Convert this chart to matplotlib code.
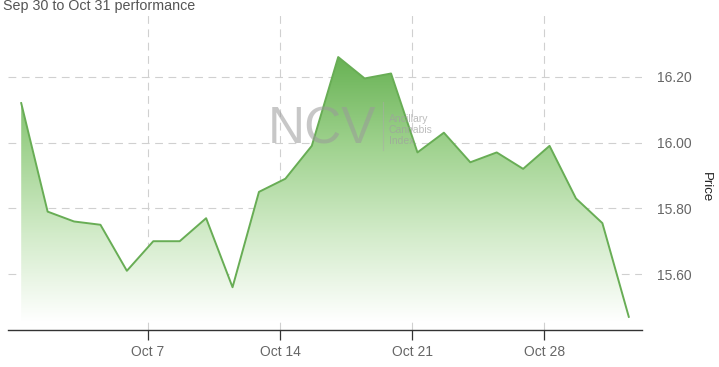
import numpy as np
import matplotlib
matplotlib.use('Agg')
from matplotlib import pyplot as plt
from matplotlib.colors import LinearSegmentedColormap
from matplotlib.patches import Polygon

# trading days, Sep 30 to Oct 31
dates = ['Sep 30', 'Oct 1', 'Oct 2', 'Oct 3', 'Oct 4',
         'Oct 7', 'Oct 8', 'Oct 9', 'Oct 10', 'Oct 11',
         'Oct 14', 'Oct 15', 'Oct 16', 'Oct 17', 'Oct 18',
         'Oct 21', 'Oct 22', 'Oct 23', 'Oct 24', 'Oct 25',
         'Oct 28', 'Oct 29', 'Oct 30', 'Oct 31']
prices = [16.12, 15.79, 15.76, 15.75, 15.61,
          15.70, 15.70, 15.77, 15.56,
          15.85, 15.89, 15.99, 16.26, 16.195, 16.21,
          15.97, 16.03, 15.94, 15.97, 15.92,
          15.99, 15.83, 15.755, 15.47]
tick_dates = ['Oct 7', 'Oct 14', 'Oct 21', 'Oct 28']
price_ticks = [15.60, 15.80, 16.00, 16.20]

FONT = 'Liberation Sans'
LINE_COLOR = '#68ad55'
GRID_COLOR = '#d0d0d0'

x = np.arange(len(prices))
y = np.array(prices)

fig = plt.figure(figsize=(7.19, 3.67), dpi=100)
ax = fig.add_axes([8 / 719, 37 / 367, 634 / 719, 318 / 367])

# gradient fill under the line
fill_bottom = 15.455
cmap = LinearSegmentedColormap.from_list('g', ['#ffffff', '#d2ebc9', '#9fd28e', '#68b254'])
grad = np.linspace(0, 1, 256).reshape(-1, 1)
img = ax.imshow(grad, cmap=cmap, origin='lower', aspect='auto',
                extent=[x[0], x[-1], fill_bottom, y.max()], zorder=1)
verts = list(zip(x, y)) + [(x[-1], fill_bottom), (x[0], fill_bottom)]
poly = Polygon(verts, closed=True, facecolor='none', edgecolor='none')
ax.add_patch(poly)
img.set_clip_path(poly)
ax.set_xlim(-0.5, 23.5)
ax.set_ylim(15.430, 16.397)

ax.plot(x, y, color=LINE_COLOR, linewidth=1.4, zorder=3)

# grid
tick_pos = [dates.index(d) - 0.2 for d in tick_dates]
ax.set_xticks(tick_pos)
ax.set_xticklabels(tick_dates)
ax.set_yticks(price_ticks)
ax.set_yticklabels([f'{v:.2f}' for v in price_ticks])
ax.grid(True, color=GRID_COLOR, linestyle=(0, (7, 5)), linewidth=0.8, zorder=0)
ax.set_axisbelow(True)

for side in ['top', 'left', 'right']:
    ax.spines[side].set_visible(False)
ax.spines['bottom'].set_color('#333333')
ax.spines['bottom'].set_linewidth(1.0)

ax.yaxis.tick_right()
ax.tick_params(axis='y', length=0, pad=11, labelsize=10, labelcolor='#666666')
ax.tick_params(axis='x', length=7, width=0.9, color='#333333', pad=4,
               labelsize=10, labelcolor='#666666')
for lab in ax.get_xticklabels() + ax.get_yticklabels():
    lab.set_fontfamily(FONT)

fig.text(706 / 719, 1 - 187 / 367, 'Price', rotation=270, ha='center', va='center',
         fontsize=9.5, color='#222222', fontfamily=FONT)
fig.text(3 / 719, 1 - 6 / 367, 'Sep 30 to Oct 31 performance', ha='left', va='center',
         fontsize=10.3, color='#555555', fontfamily=FONT)

# watermark
fig.text(322 / 719, 1 - 130 / 367, 'NCV', ha='center', va='center', fontsize=37,
         color='#9a9a9a', alpha=0.55, fontfamily=FONT, zorder=5)
fig.add_artist(plt.Line2D([383 / 719, 383 / 719], [1 - 102 / 367, 1 - 150 / 367],
                          color='#aaaaaa', alpha=0.5, linewidth=0.8))
fig.text(389 / 719, 1 - 130 / 367, 'Ancillary\nCannabis\nIndex', ha='left', va='center',
         fontsize=7.5, color='#a0a0a0', alpha=0.7, linespacing=1.1, fontfamily=FONT)

fig.savefig('out.png', dpi=100)
